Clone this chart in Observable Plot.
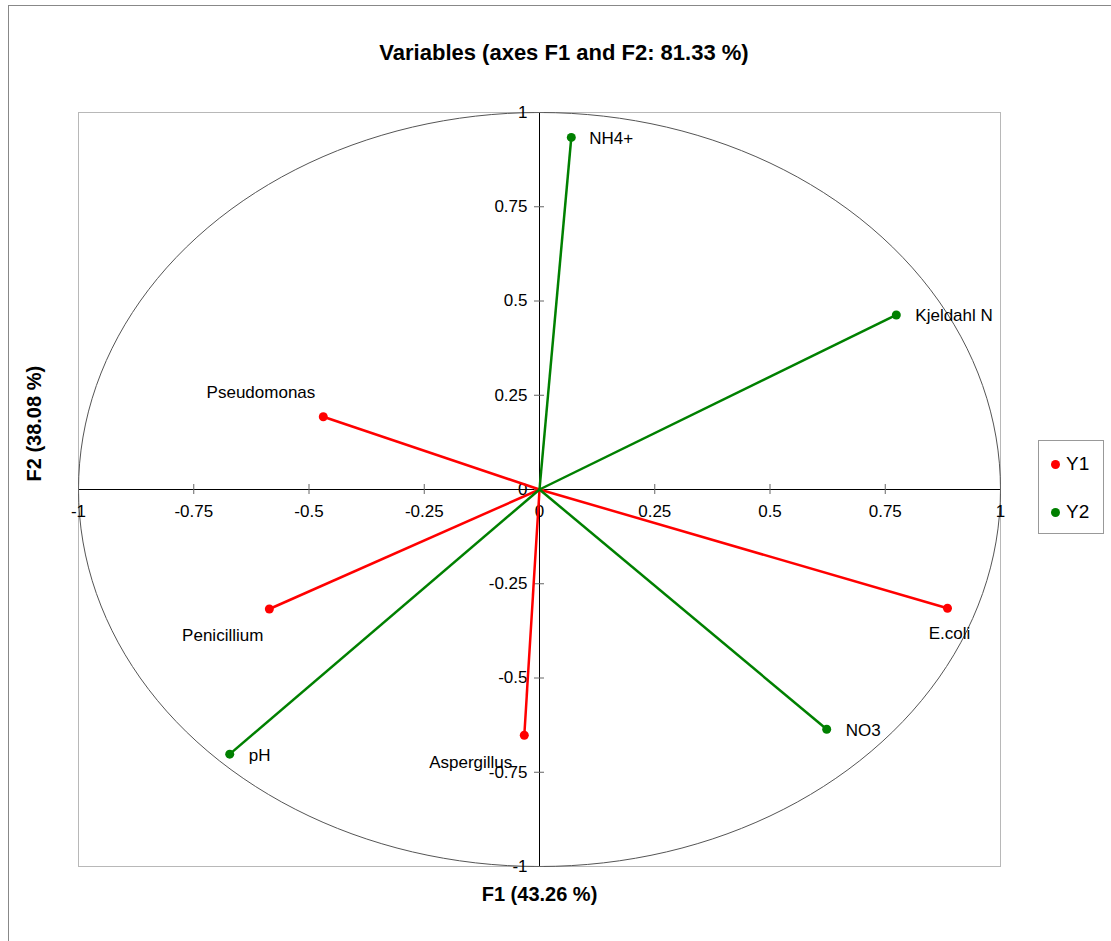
<!DOCTYPE html>
<html>
<head>
<meta charset="utf-8">
<script src="https://cdn.jsdelivr.net/npm/d3@7"></script>
<script src="https://cdn.jsdelivr.net/npm/@observablehq/plot@0.6"></script>
<style>
  html, body { margin: 0; padding: 0; background: #fff; }
  #wrap { position: relative; width: 1111px; height: 941px; overflow: hidden; font-family: "Liberation Sans", Arial, sans-serif; }
  #outer { position: absolute; left: 8px; top: 5px; width: 1200px; height: 1000px; border-left: 1px solid #888; border-top: 1px solid #888; }
  #title { position: absolute; left: 0; top: 40px; width: 1128px; text-align: center; font-weight: bold; font-size: 22px; color: #000; }
  #chart { position: absolute; left: 0; top: 0; }
  #legend { position: absolute; left: 1038px; top: 440px; width: 64px; height: 92px; border: 1px solid #999; background: #fff; font-size: 19px; }
  .item { position: absolute; left: 12px; display: flex; align-items: center; }
  .sw { width: 9px; height: 9px; border-radius: 50%; margin-right: 6px; }
</style>
</head>
<body>
<div id="wrap">
  <div id="outer"></div>
  <div id="chart"></div>
  <div id="title">Variables (axes F1 and F2: 81.33 %)</div>
  <div id="legend"></div>
</div>
<script>
// Data
const variables = ["Pseudomonas", "Penicillium", "E.coli", "Aspergillus", "NH4+", "Kjeldahl N", "NO3", "pH"];
const f1 = [-0.469, -0.586, 0.885, -0.033, 0.069, 0.774, 0.623, -0.672];
const f2 = [0.193, -0.317, -0.315, -0.652, 0.934, 0.463, -0.636, -0.702];
const groups = ["Y1", "Y1", "Y1", "Y1", "Y2", "Y2", "Y2", "Y2"];
const seriesNames = ["Y1", "Y2"];
const seriesColors = ["#ff0000", "#008000"];
const xTicks = [-1, -0.75, -0.5, -0.25, 0, 0.25, 0.5, 0.75, 1];
const xTickLabels = ["-1", "-0.75", "-0.5", "-0.25", "0", "0.25", "0.5", "0.75", "1"];
const yTicks = [-1, -0.75, -0.5, -0.25, 0, 0.25, 0.5, 0.75, 1];
const yTickLabels = ["-1", "-0.75", "-0.5", "-0.25", "0", "0.25", "0.5", "0.75", "1"];

// Label placement (style, not data)
const labelPlacement = {
  "Pseudomonas": {anchor: "end", dx: -8, dy: -24},
  "Penicillium": {anchor: "end", dx: -6, dy: 27},
  "E.coli": {anchor: "middle", dx: 2, dy: 25},
  "Aspergillus": {anchor: "end", dx: -12, dy: 27},
  "NH4+": {anchor: "start", dx: 18, dy: 1},
  "Kjeldahl N": {anchor: "start", dx: 19, dy: 1},
  "NO3": {anchor: "start", dx: 19, dy: 1},
  "pH": {anchor: "start", dx: 19, dy: 1}
};

const data = variables.map((name, i) => ({name, x: f1[i], y: f2[i], group: groups[i]}));
const xt = xTicks.map((v, i) => ({v, label: xTickLabels[i]}));
const yt = yTicks.map((v, i) => ({v, label: yTickLabels[i]}));
const circle = d3.range(0, 361, 2).map(a => ({x: Math.cos(a * Math.PI / 180), y: Math.sin(a * Math.PI / 180)}));

const colorScale = {domain: seriesNames, range: seriesColors};
const font = "Liberation Sans, Arial, sans-serif";

const labelMarks = data.map(d => {
  const p = labelPlacement[d.name];
  return Plot.text([d], {x: "x", y: "y", text: "name", textAnchor: p.anchor, dx: p.dx, dy: p.dy, fontSize: 17, fill: "#000", fontFamily: font});
});

const chart = Plot.plot({
  width: 1111,
  height: 941,
  marginLeft: 78,
  marginRight: 111,
  marginTop: 112,
  marginBottom: 75,
  x: {domain: [-1, 1], axis: null},
  y: {domain: [-1, 1], axis: null},
  color: colorScale,
  style: {fontFamily: font, background: "transparent", overflow: "visible"},
  marks: [
    Plot.frame({stroke: "#b8b8b8"}),
    Plot.line(circle, {x: "x", y: "y", stroke: "#555", strokeWidth: 1}),
    Plot.ruleX([0], {stroke: "#000", strokeWidth: 1}),
    Plot.ruleY([0], {stroke: "#000", strokeWidth: 1}),
    Plot.ruleX(xt, {x: "v", y1: () => 0, y2: () => 0, insetTop: -5, insetBottom: -5, stroke: "#666"}),
    Plot.ruleY(yt, {y: "v", x1: () => 0, x2: () => 0, insetLeft: -5, insetRight: -5, stroke: "#666"}),
    Plot.text(xt, {x: "v", y: () => 0, text: "label", dy: 22, fontSize: 17, fill: "#000", fontFamily: font}),
    Plot.text(yt, {x: () => 0, y: "v", text: "label", textAnchor: "end", dx: -12, fontSize: 17, fill: "#000", fontFamily: font}),
    Plot.link(data, {x1: () => 0, y1: () => 0, x2: "x", y2: "y", stroke: "group", strokeWidth: 2.5}),
    Plot.dot(data, {x: "x", y: "y", fill: "group", r: 4.5}),
    ...labelMarks,
    Plot.text(["F1 (43.26 %)"], {x: () => 0, frameAnchor: "bottom", dy: 34, text: d => d, fontSize: 20, fontWeight: "bold", fill: "#000", fontFamily: font}),
    Plot.text(["F2 (38.08 %)"], {y: () => 0, frameAnchor: "left", dx: -44, dy: -8, rotate: -90, text: d => d, fontSize: 20, fontWeight: "bold", fill: "#000", fontFamily: font})
  ]
});
document.getElementById("chart").appendChild(chart);

// Legend
const legend = document.getElementById("legend");
seriesNames.forEach((s, i) => {
  const item = document.createElement("div");
  item.className = "item";
  item.style.top = (i === 0 ? 12 : 60) + "px";
  const sw = document.createElement("span");
  sw.className = "sw";
  sw.style.background = seriesColors[i];
  const tx = document.createElement("span");
  tx.textContent = s;
  item.appendChild(sw);
  item.appendChild(tx);
  legend.appendChild(item);
});
</script>
</body>
</html>
